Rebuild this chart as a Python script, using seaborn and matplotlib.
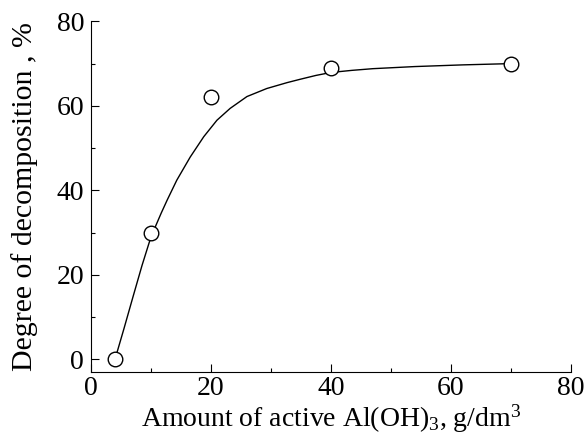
import matplotlib
matplotlib.use("Agg")
import matplotlib.pyplot as plt
from matplotlib.ticker import MultipleLocator
import seaborn as sns

# measured points
amount = [4, 10, 20, 40, 70]
degree = [0, 30, 62, 69, 70]

# smooth fitted curve
curve_x = [4, 5.5, 7, 8.5, 10, 10.7, 11.7, 12.7, 14.3, 16.55, 18.8, 21, 23.2, 26, 29.3,
           32.7, 34.9, 37.5, 40, 43.5, 47, 54, 62, 70]
curve_y = [0, 7.3, 14.8, 22.2, 29.0, 31.3, 34.6, 37.7, 42.4, 47.9, 52.7, 56.6, 59.4, 62.2,
           64.1, 65.5, 66.3, 67.2, 67.9, 68.4, 68.8, 69.3, 69.7, 70.0]

sns.set_style("ticks")
plt.rcParams['font.family'] = ['Liberation Serif', 'DejaVu Serif']
plt.rcParams['mathtext.fontset'] = 'custom'
plt.rcParams['mathtext.rm'] = 'Liberation Serif'
plt.rcParams['mathtext.it'] = 'Liberation Serif:italic'
plt.rcParams['axes.labelcolor'] = 'black'
plt.rcParams['text.color'] = 'black'

fig = plt.figure(figsize=(5.85, 4.36), dpi=100)
ax = fig.add_axes([0.1556, 0.1468, 0.82, 0.8042])

sns.lineplot(x=curve_x, y=curve_y, ax=ax, color='black', linewidth=1.0, sort=False)
sns.scatterplot(x=amount, y=degree, ax=ax, marker='o', s=110, facecolor='white',
                edgecolor='black', linewidth=1.0, zorder=5)

ax.set_xlim(0, 80)
ax.set_ylim(-3, 80)
ax.xaxis.set_major_locator(MultipleLocator(20))
ax.xaxis.set_minor_locator(MultipleLocator(10))
ax.yaxis.set_major_locator(MultipleLocator(20))
ax.yaxis.set_minor_locator(MultipleLocator(10))
ax.tick_params(which='major', direction='in', length=6, width=0.8, labelsize=20,
               colors='black', pad=3)
ax.tick_params(axis='y', which='major', pad=5)
ax.tick_params(which='minor', direction='in', length=3, width=0.8, colors='black')
sns.despine(ax=ax)
for s in ['left', 'bottom']:
    ax.spines[s].set_linewidth(0.8)
    ax.spines[s].set_color('black')

ax.set_xlabel(r'Amount of active Al(OH)$_\mathrm{3}$, g/dm$^\mathrm{3}$', fontsize=20,
              labelpad=1, color='black')
ax.set_ylabel('Degree of decomposition , %', fontsize=21.5, labelpad=13, color='black')

fig.savefig('out.png', dpi=100)
